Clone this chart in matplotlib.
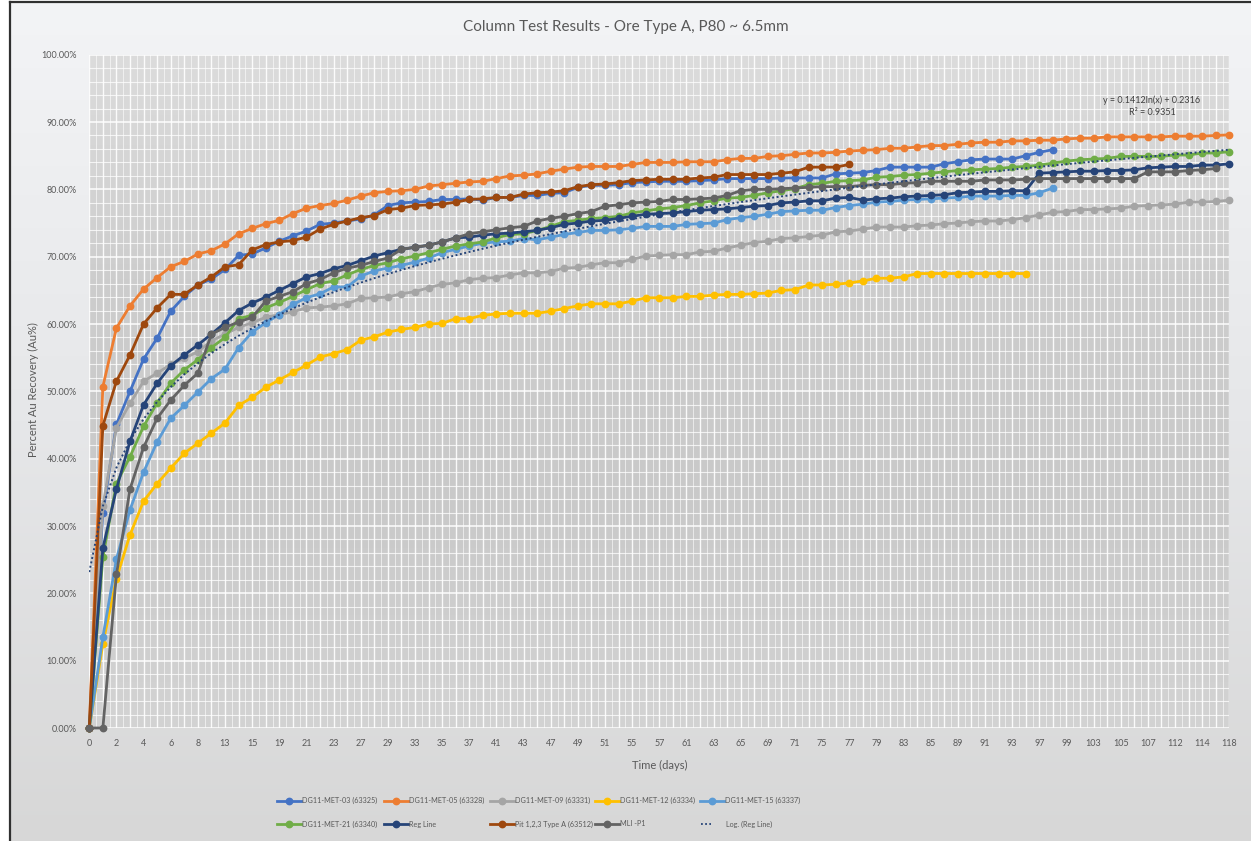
import numpy as np
import matplotlib
matplotlib.use("Agg")
import matplotlib.pyplot as plt
from matplotlib.lines import Line2D
from matplotlib.ticker import FuncFormatter
from matplotlib.colors import LinearSegmentedColormap
from matplotlib import font_manager

plt.rcParams['font.family'] = ['Lato', 'DejaVu Sans']

# ---------------- data ----------------
DAYS = [0, 1, 2, 3, 4, 5, 6, 7, 8, 10, 13, 14, 15, 17, 19, 20, 21, 22, 23, 25, 27, 28, 29, 31,
        33, 34, 35, 36, 37, 39, 41, 42, 43, 45, 47, 48, 49, 50, 51, 53, 55, 56, 57, 59, 61, 62,
        63, 64, 65, 67, 69, 70, 71, 73, 75, 76, 77, 78, 79, 81, 83, 84, 85, 87, 89, 90, 91, 92,
        93, 95, 97, 98, 99, 101, 103, 104, 105, 106, 107, 110, 112, 113, 114, 116, 118]

MET03 = [0, 32.0, 45.1, 50.0, 54.8, 57.9, 61.9, 64.1, 65.8, 66.7, 68.1, 70.2, 70.4, 71.3, 72.3, 73.1, 73.8, 74.8,
         75.0, 75.3, 75.6, 76.2, 77.6, 78.0, 78.1, 78.2, 78.5, 78.5, 78.6, 78.4, 78.8, 78.8, 79.1, 79.1, 79.4,
         79.5, 80.3, 80.6, 80.6, 80.7, 81.0, 81.1, 81.2, 81.2, 81.2, 81.3, 81.4, 81.6, 81.6, 81.6, 81.6, 81.7, 81.7,
         81.7, 81.7, 82.3, 82.4, 82.5, 82.8, 83.3, 83.3, 83.3, 83.3, 83.8, 84.1, 84.4, 84.5, 84.5, 84.5, 85.0,
         85.5, 85.9]
MET05 = [0, 50.7, 59.4, 62.7, 65.2, 66.9, 68.5, 69.3, 70.4, 70.9, 71.9, 73.4, 74.2, 74.9, 75.4, 76.4, 77.2, 77.6,
         77.9, 78.4, 79.0, 79.5, 79.7, 79.8, 80.0, 80.5, 80.7, 80.9, 81.1, 81.2, 81.6, 82.0, 82.1, 82.3, 82.7,
         83.0, 83.3, 83.4, 83.4, 83.4, 83.7, 84.0, 84.0, 84.0, 84.1, 84.1, 84.1, 84.4, 84.6, 84.6, 84.9, 85.0, 85.2,
         85.4, 85.4, 85.5, 85.7, 85.8, 85.9, 86.1, 86.1, 86.3, 86.5, 86.5, 86.7, 86.9, 87.0, 87.0, 87.2, 87.2,
         87.3, 87.3, 87.5, 87.6, 87.6, 87.8, 87.8, 87.8, 87.8, 87.8, 87.9, 87.9, 87.9, 88.0, 88.1]
MET09 = [0, 33.0, 44.6, 48.2, 51.5, 52.7, 54.0, 54.9, 55.9, 57.5, 58.5, 59.5, 60.2, 61.0, 61.4, 61.8, 62.4, 62.5,
         62.7, 63.0, 63.8, 63.9, 64.0, 64.5, 64.8, 65.4, 65.9, 66.1, 66.6, 66.8, 66.9, 67.3, 67.6, 67.6, 67.8,
         68.3, 68.4, 68.8, 69.1, 69.1, 69.6, 70.1, 70.2, 70.3, 70.3, 70.7, 70.8, 71.3, 71.7, 72.1, 72.3, 72.7, 72.8,
         73.0, 73.2, 73.7, 73.8, 74.1, 74.4, 74.4, 74.4, 74.6, 74.7, 74.9, 75.0, 75.2, 75.3, 75.3, 75.5, 75.8,
         76.2, 76.6, 76.7, 77.0, 77.0, 77.1, 77.2, 77.5, 77.6, 77.7, 77.8, 78.1, 78.1, 78.2, 78.4]
MET12 = [0, 12.5, 22.2, 28.7, 33.7, 36.3, 38.6, 40.8, 42.3, 43.8, 45.3, 47.9, 49.1, 50.6, 51.7, 52.8, 53.9, 55.1,
         55.6, 56.2, 57.6, 58.1, 58.8, 59.2, 59.5, 60.0, 60.1, 60.8, 60.8, 61.3, 61.5, 61.6, 61.6, 61.6, 61.9,
         62.3, 62.7, 63.0, 63.0, 63.0, 63.4, 63.9, 63.9, 63.9, 64.1, 64.1, 64.3, 64.4, 64.4, 64.5, 64.6, 65.0, 65.1,
         65.8, 65.8, 65.9, 66.1, 66.4, 66.8, 66.8, 67.0, 67.5, 67.5, 67.5, 67.5, 67.5, 67.5, 67.5, 67.5, 67.5]
MET15 = [0, 13.5, 25.1, 32.4, 38.0, 42.5, 46.0, 47.9, 49.9, 51.9, 53.3, 56.5, 58.8, 60.2, 61.4, 62.9, 63.9, 64.5,
         65.5, 65.5, 67.1, 67.9, 68.3, 68.7, 69.2, 69.8, 70.6, 71.1, 71.6, 72.0, 72.2, 72.3, 72.7, 72.5, 72.9,
         73.3, 73.6, 73.9, 73.9, 74.0, 74.2, 74.5, 74.5, 74.5, 74.8, 74.9, 75.0, 75.5, 75.8, 76.0, 76.3, 76.7, 76.8,
         76.9, 76.9, 77.3, 77.6, 77.8, 78.1, 78.2, 78.4, 78.5, 78.6, 78.7, 78.8, 79.0, 79.0, 79.0, 79.1, 79.1,
         79.5, 80.2]
MET21 = [0, 25.4, 36.3, 40.3, 44.8, 48.3, 51.2, 53.2, 54.7, 56.5, 58.0, 60.8, 61.3, 62.4, 63.2, 64.1, 65.1, 66.0,
         66.4, 67.3, 68.1, 68.7, 69.1, 69.7, 70.1, 70.6, 71.1, 71.6, 71.9, 72.2, 72.8, 73.3, 73.4, 73.9, 74.5,
         75.2, 75.4, 75.7, 75.8, 76.0, 76.5, 76.8, 77.1, 77.3, 77.6, 78.0, 78.3, 78.7, 78.8, 79.1, 79.5, 79.8, 80.1,
         80.7, 80.9, 81.2, 81.3, 81.4, 81.8, 81.9, 82.1, 82.2, 82.4, 82.6, 82.8, 82.9, 83.0, 83.1, 83.3, 83.4,
         83.6, 83.9, 84.2, 84.4, 84.5, 84.6, 84.9, 84.9, 84.9, 84.9, 85.1, 85.1, 85.4, 85.4, 85.6]
REG = [0, 26.7, 35.5, 42.6, 48.0, 51.2, 53.8, 55.4, 56.9, 58.5, 60.2, 62.0, 63.1, 64.0, 65.0, 66.0, 67.0, 67.5,
       68.2, 68.7, 69.4, 70.1, 70.6, 71.1, 71.4, 71.7, 72.2, 72.8, 72.9, 73.2, 73.4, 73.5, 73.7, 73.9, 74.3,
       74.8, 75.0, 75.3, 75.4, 75.7, 76.0, 76.3, 76.4, 76.5, 76.7, 76.9, 77.0, 77.1, 77.3, 77.5, 77.6, 78.0, 78.1,
       78.3, 78.3, 78.7, 78.8, 78.4, 78.6, 78.7, 78.9, 79.0, 79.1, 79.2, 79.5, 79.6, 79.7, 79.7, 79.8, 79.8,
       82.4, 82.5, 82.6, 82.7, 82.7, 82.8, 82.8, 82.9, 83.2, 83.3, 83.4, 83.4, 83.6, 83.6, 83.8]
PIT = [0, 44.9, 51.5, 55.4, 60.0, 62.4, 64.4, 64.4, 65.8, 67.0, 68.5, 68.8, 71.0, 71.8, 72.2, 72.4, 72.9, 74.1,
       74.8, 75.3, 75.8, 76.1, 77.0, 77.2, 77.6, 77.7, 77.8, 78.1, 78.5, 78.6, 78.8, 78.8, 79.3, 79.5, 79.6,
       79.8, 80.4, 80.7, 80.8, 81.0, 81.3, 81.4, 81.5, 81.5, 81.5, 81.7, 81.8, 82.2, 82.2, 82.2, 82.2, 82.4, 82.6,
       83.3, 83.3, 83.3, 83.7]
MLI = [0, 0, 22.8, 35.5, 41.7, 46.0, 48.7, 50.9, 52.7, 58.5, 59.5, 60.3, 61.0, 63.4, 64.1, 64.8, 66.0, 66.6,
       67.6, 68.3, 68.7, 69.3, 69.8, 71.1, 71.4, 71.7, 72.2, 72.8, 73.4, 73.7, 74.0, 74.3, 74.5, 75.3, 75.7,
       76.0, 76.4, 76.7, 77.5, 77.7, 78.0, 78.1, 78.2, 78.5, 78.5, 78.6, 78.7, 79.1, 79.8, 80.0, 80.0, 80.1, 80.2,
       80.3, 80.4, 80.4, 80.4, 80.6, 80.7, 80.7, 80.9, 81.0, 81.2, 81.2, 81.2, 81.2, 81.4, 81.4, 81.4, 81.5,
       81.6, 81.6, 81.6, 81.6, 81.6, 81.6, 81.6, 81.6, 82.6, 82.6, 82.6, 82.8, 82.9, 83.1]

SERIES_NAMES = ["DG11-MET-03 (63325)", "DG11-MET-05 (63328)", "DG11-MET-09 (63331)",
                "DG11-MET-12 (63334)", "DG11-MET-15 (63337)", "DG11-MET-21 (63340)",
                "Reg Line", "Pit 1,2,3 Type A (63512)", "MLI -P1"]
SERIES_VALUES = [MET03, MET05, MET09, MET12, MET15, MET21, REG, PIT, MLI]
SERIES_COLORS = ["#4472C4", "#ED7D31", "#A5A5A5", "#FFC000", "#5B9BD5", "#70AD47",
                 "#264478", "#9E480E", "#636363"]
TREND_NAME = "Log. (Reg Line)"
TREND_A = 0.1412
TREND_B = 0.2316
TREND_R2 = 0.9351

TITLE = "Column Test Results - Ore Type A, P80 ~ 6.5mm"
XLABEL = "Time (days)"
YLABEL = "Percent Au Recovery (Au%)"

# ---------------- layout ----------------
W, H = 1251, 841
TXT = "#595959"

_installed = {f.name for f in font_manager.fontManager.ttflist}
if "Liberation Sans Narrow" in _installed:
    LEG_FAMILY, LEG_SIZE = ["Liberation Sans Narrow", "DejaVu Sans"], 6.4
else:
    LEG_FAMILY, LEG_SIZE = ["Lato", "DejaVu Sans"], 5.2

fig = plt.figure(figsize=(W / 100, H / 100), dpi=100)
fig.patch.set_facecolor("white")


def px(x0, y0, x1, y1):
    return [x0 / W, 1 - y1 / H, (x1 - x0) / W, (y1 - y0) / H]


grad = np.linspace(0, 1, 256).reshape(-1, 1)

# chart area background
bg = fig.add_axes(px(10, 2, 1251, 841))
bg.imshow(grad, aspect="auto", origin="upper", extent=[0, 1, 0, 1],
          cmap=LinearSegmentedColormap.from_list("bg", ["#F3F4F6", "#E6E7E9", "#D7D7D7"]))
bg.set_axis_off()
fig.add_artist(Line2D([10 / W, 10 / W], [0, 1 - 2 / H], color="#303030", lw=1.6, transform=fig.transFigure))
fig.add_artist(Line2D([10 / W, 1], [1 - 2 / H, 1 - 2 / H], color="#303030", lw=1.6, transform=fig.transFigure))

# plot area
ax = fig.add_axes(px(89.3, 54.7, 1229.3, 728))
ax.set_xlim(0, 84)
ax.set_ylim(0, 1.0)
ax.imshow(grad, aspect="auto", origin="upper", extent=[0, 84, 0, 1.0], zorder=0,
          cmap=LinearSegmentedColormap.from_list("pa", ["#DCDCDC", "#CDCDCD", "#C9C9C9", "#D3D3D3"]))
for s in ax.spines.values():
    s.set_visible(False)

for xv in np.arange(0, 84.01, 0.5):
    major = float(xv).is_integer()
    ax.axvline(xv, color="white", lw=1.0 if major else 0.7, alpha=0.9 if major else 0.6, zorder=1)
for yv in np.arange(0, 1.0001, 0.02):
    major = abs(round(yv * 100) % 10) < 1e-6
    ax.axhline(yv, color="white", lw=1.1 if major else 0.8, alpha=0.95 if major else 0.75, zorder=1)

ax.set_xticks(np.arange(0, len(DAYS), 2))
ax.set_xticklabels([str(d) for d in DAYS[::2]])
ax.set_yticks(np.arange(0, 1.0001, 0.1))
ax.yaxis.set_major_formatter(FuncFormatter(lambda v, p: f"{v * 100:.2f}%"))
ax.tick_params(axis="both", length=0, labelsize=6.5, labelcolor=TXT)
ax.tick_params(axis="x", pad=8)
ax.tick_params(axis="y", pad=9)

for name, vals, col in zip(SERIES_NAMES, SERIES_VALUES, SERIES_COLORS):
    x = np.arange(len(vals))
    ax.plot(x, np.array(vals) / 100.0, color=col, lw=2.0, marker="o", ms=4.6,
            mfc=col, mec=col, zorder=3, clip_on=False, solid_joinstyle="round")

xt = np.arange(len(DAYS))
ax.plot(xt, TREND_A * np.log(xt + 1) + TREND_B, color="#264478", lw=1.4,
        ls=(0, (1, 1.3)), zorder=4)

fig.text(1152 / W, 1 - 100 / H, f"y = {TREND_A}ln(x) + {TREND_B}", ha="center", va="center",
         fontsize=6.5, color="#404040")
fig.text(1152 / W, 1 - 113 / H, f"R² = {TREND_R2}", ha="center", va="center",
         fontsize=6.5, color="#404040")

fig.text(626 / W, 1 - 27 / H, TITLE, ha="center", va="center", fontsize=11, color=TXT)
fig.text(660 / W, 1 - 765 / H, XLABEL, ha="center", va="center", fontsize=8, color=TXT)
fig.text(33 / W, 1 - 390 / H, YLABEL, ha="center", va="center", fontsize=8, color=TXT, rotation=90)

# legend (Excel-style grid, row-major)
col_x = [277, 384, 490, 595, 700]
row_y = [800.7, 824]
entries = list(zip(SERIES_NAMES, SERIES_COLORS)) + [(TREND_NAME, None)]
for k, (lab, col) in enumerate(entries):
    cx = col_x[k % 5]
    cy = row_y[k // 5]
    yy = 1 - cy / H
    if col is None:
        fig.add_artist(Line2D([(cx + 1) / W, (cx + 11) / W], [yy, yy], color="#264478", lw=1.3,
                              ls=(0, (1, 1.3)), transform=fig.transFigure))
        fig.text((cx + 26) / W, yy, lab, ha="left", va="center", fontsize=LEG_SIZE,
                 color=TXT, family=LEG_FAMILY)
    else:
        fig.add_artist(Line2D([cx / W, (cx + 24) / W], [yy, yy], color=col, lw=2.0,
                              transform=fig.transFigure))
        fig.add_artist(Line2D([(cx + 12) / W], [yy], color=col, marker="o", ms=4.6, lw=0,
                              transform=fig.transFigure))
        fig.text((cx + 25) / W, yy, lab, ha="left", va="center", fontsize=LEG_SIZE,
                 color=TXT, family=LEG_FAMILY)

fig.savefig("out.png", dpi=100, facecolor=fig.get_facecolor())
